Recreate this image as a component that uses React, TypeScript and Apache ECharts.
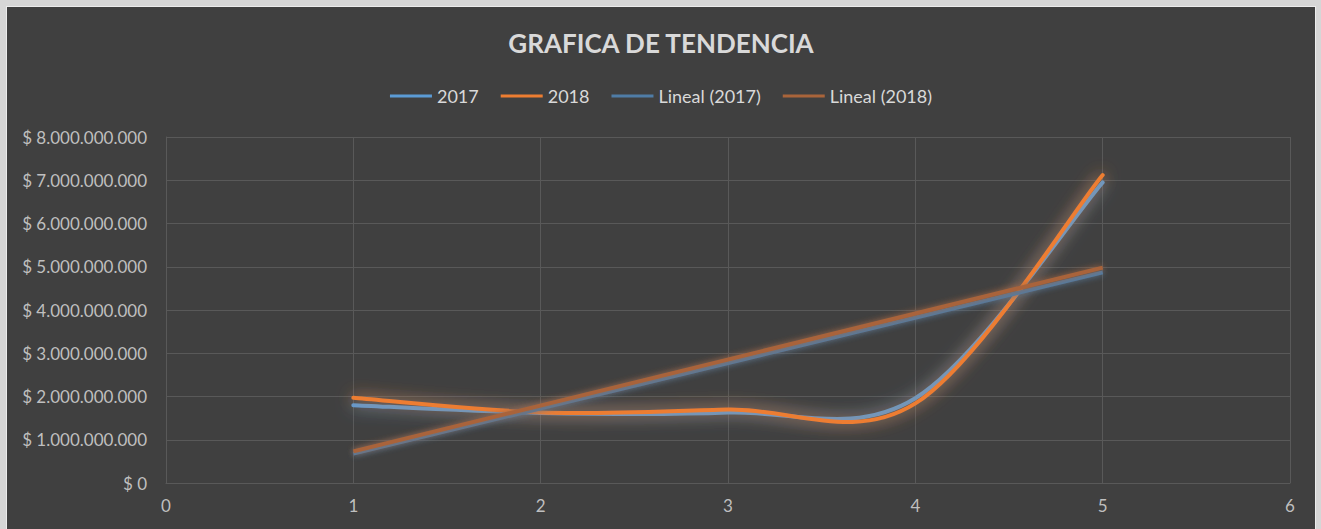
import React, { useEffect, useRef } from "react";
import * as echarts from "echarts";

const xValues = [1, 2, 3, 4, 5];
const values2017 = [1.8e9, 1.62e9, 1.63e9, 1.96e9, 6.95e9];
const values2018 = [1.97e9, 1.63e9, 1.7e9, 1.84e9, 7.12e9];
const trendX = [1, 5];
const trend2017 = [0.68e9, 4.87e9];
const trend2018 = [0.73e9, 4.98e9];
const seriesNames = ["2017", "2018", "Lineal (2017)", "Lineal (2018)"];
const titleText = "GRAFICA DE TENDENCIA";

const FONT = "Lato, 'Open Sans', sans-serif";

function fmtMoney(v: number): string {
  if (v === 0) return "$ 0";
  const s = Math.round(v).toString().replace(/\B(?=(\d{3})+(?!\d))/g, ".");
  return "$ " + s;
}

// Excel-like (Catmull-Rom) smooth path through pixel points
function smoothPath(pts: number[][]): string {
  const n = pts.length;
  let d = `M${pts[0][0]},${pts[0][1]}`;
  for (let i = 0; i < n - 1; i++) {
    const p0 = pts[Math.max(i - 1, 0)];
    const p1 = pts[i];
    const p2 = pts[i + 1];
    const p3 = pts[Math.min(i + 2, n - 1)];
    const c1x = p1[0] + (p2[0] - p0[0]) / 6;
    const c1y = p1[1] + (p2[1] - p0[1]) / 6;
    const c2x = p2[0] - (p3[0] - p1[0]) / 6;
    const c2y = p2[1] - (p3[1] - p1[1]) / 6;
    d += ` C${c1x},${c1y} ${c2x},${c2y} ${p2[0]},${p2[1]}`;
  }
  return d;
}

export default function App() {
  const ref = useRef<HTMLDivElement>(null);
  useEffect(() => {
    if (!ref.current) return;
    const chart = echarts.init(ref.current, undefined, { renderer: "svg" });
    const pair = (xs: number[], ys: number[]) => xs.map((x, i) => [x, ys[i]]);
    const dataLine = (name: string, ys: number[], color: string, z: number) => ({
      name,
      type: "custom",
      data: pair(xValues, ys),
      encode: { x: 0, y: 1 },
      itemStyle: { color },
      z,
      renderItem: (params: any, api: any) => {
        if (params.dataIndex !== 0) return null;
        const pts = xValues.map((x, i) => api.coord([x, ys[i]]));
        return {
          type: "path",
          shape: { pathData: smoothPath(pts) },
          style: {
            fill: "none",
            stroke: color,
            lineWidth: 4,
            shadowColor: color,
            shadowBlur: 16,
            lineCap: "round",
          },
        };
      },
    });
    const trendLine = (name: string, ys: number[], color: string) => ({
      name,
      type: "line",
      data: pair(trendX, ys),
      symbol: "none",
      color,
      itemStyle: { color },
      lineStyle: {
        color,
        width: 4,
        shadowColor: color,
        shadowBlur: 6,
      },
      z: 4,
    });
    chart.setOption({
      animation: false,
      backgroundColor: "#404040",
      textStyle: { fontFamily: FONT },
      title: {
        text: titleText,
        left: "center",
        top: 18,
        textStyle: {
          color: "#d9d9d9",
          fontSize: 26,
          fontWeight: "bold",
          fontFamily: FONT,
        },
      },
      legend: {
        data: seriesNames,
        top: 75,
        left: "center",
        icon: "rect",
        itemWidth: 42,
        itemHeight: 3,
        itemGap: 22,
        textStyle: { color: "#d9d9d9", fontSize: 18, fontFamily: FONT },
      },
      grid: { left: 159, right: 25, top: 130, bottom: 46 },
      xAxis: {
        type: "value",
        min: 0,
        max: 6,
        interval: 1,
        axisLine: { show: true, lineStyle: { color: "#595959" } },
        axisTick: { show: false },
        axisLabel: { color: "#bfbfbf", fontSize: 17, margin: 14, fontFamily: FONT },
        splitLine: { show: true, lineStyle: { color: "#595959", width: 1 } },
      },
      yAxis: {
        type: "value",
        min: 0,
        max: 8e9,
        interval: 1e9,
        axisLine: { show: true, lineStyle: { color: "#595959" } },
        axisTick: { show: false },
        axisLabel: {
          color: "#bfbfbf",
          fontSize: 17,
          margin: 19,
          fontFamily: FONT,
          formatter: (v: number) => fmtMoney(v),
        },
        splitLine: { show: true, lineStyle: { color: "#595959", width: 1 } },
      },
      series: [
        dataLine(seriesNames[0], values2017, "#5b9bd5", 3),
        dataLine(seriesNames[1], values2018, "#ed7d31", 3),
        trendLine(seriesNames[2], trend2017, "#4f7ca6"),
        trendLine(seriesNames[3], trend2018, "#a9643a"),
      ],
    });
    return () => chart.dispose();
  }, []);
  return (
    <div
      style={{
        position: "fixed",
        left: 0,
        top: 0,
        width: 1321,
        height: 529,
        background: "#d6d6d6",
        overflow: "hidden",
      }}
    >
      <div
        style={{
          position: "absolute",
          left: 6,
          top: 6,
          width: 1310,
          height: 530,
          background: "#ececec",
        }}
      />
      <div
        ref={ref}
        style={{ position: "absolute", left: 7, top: 7, width: 1308, height: 522 }}
      />
    </div>
  );
}
